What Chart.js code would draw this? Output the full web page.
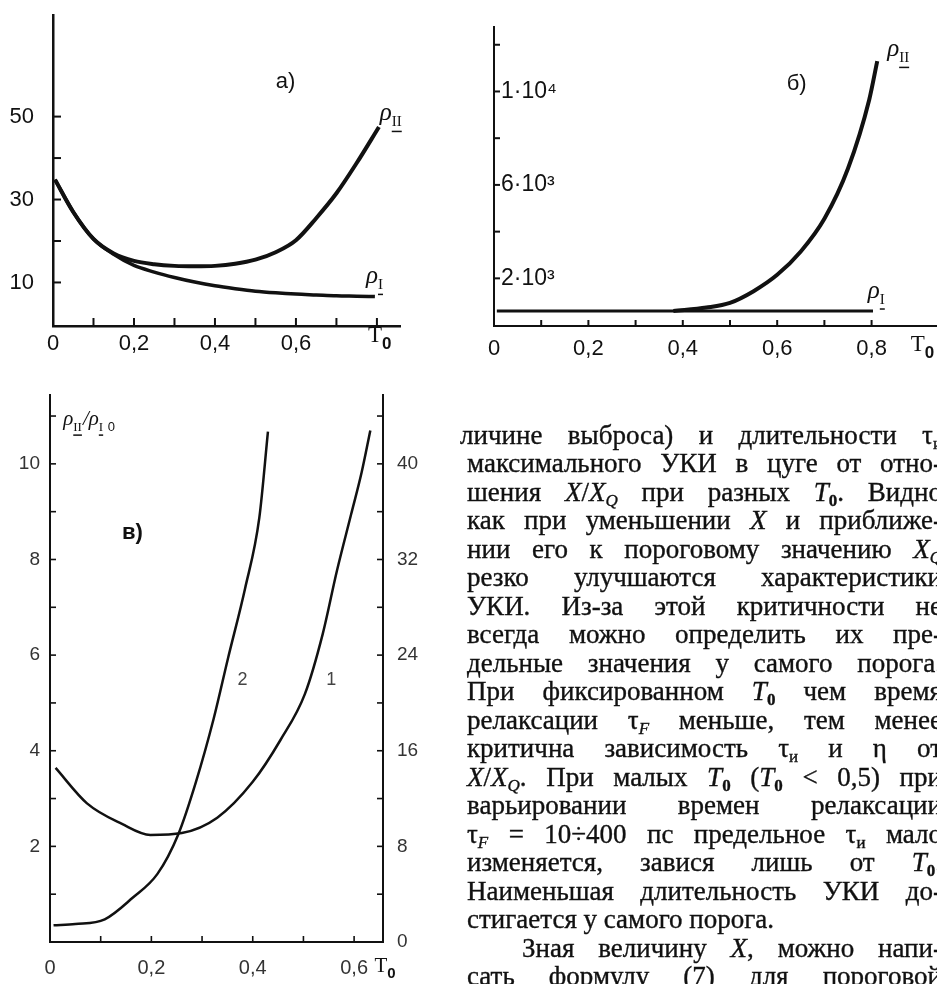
<!DOCTYPE html>
<html lang="ru">
<head>
<meta charset="utf-8">
<title>ρII, ρI от T0</title>
<script src="https://cdn.jsdelivr.net/npm/chart.js@4.4.1/dist/chart.umd.min.js"></script>
<style>
  html, body { margin: 0; padding: 0; background: #fff; }
  body { width: 937px; height: 984px; position: relative; overflow: hidden; }
  canvas { position: absolute; }
  #chartA { left: 0; top: -25px; }
  #chartB { left: 470px; top: -13px; }
  #chartC { left: 0; top: 355px; }
  .ln { position: absolute; white-space: nowrap; line-height: 28px;
        font-family: 'Liberation Serif', 'DejaVu Serif', serif; font-size: 27px; color: #111;
        -webkit-text-stroke: 0.35px #111; }
  .ln sub { font-size: 17px; line-height: 0; vertical-align: -5px; }
</style>
</head>
<body>
<canvas id="chartA" width="470" height="405"></canvas>
<canvas id="chartB" width="467" height="413"></canvas>
<canvas id="chartC" width="460" height="629"></canvas>
<div id="txt"></div>
<script>
// а) rho_II и rho_I от T0
var tA2   = [0.005, 0.05, 0.1, 0.15, 0.2, 0.25, 0.3, 0.35, 0.4, 0.45, 0.5, 0.55, 0.6, 0.65, 0.7, 0.75, 0.805];
var rhoA2 = [34.8, 27, 20.5, 17, 15.2, 14.4, 14.0, 13.9, 14.0, 14.5, 15.5, 17.3, 20.2, 25.5, 31.5, 38.8, 47.5];
var tA1   = [0.005, 0.05, 0.1, 0.15, 0.2, 0.25, 0.3, 0.35, 0.4, 0.45, 0.5, 0.55, 0.6, 0.65, 0.7, 0.75, 0.795];
var rhoA1 = [34.8, 27, 20.5, 16.8, 14.1, 12.5, 11.2, 10.1, 9.2, 8.5, 7.9, 7.5, 7.2, 7.0, 6.8, 6.7, 6.6];
var yTicksA = [10, 30, 50];

// б)
var tB1   = [0.006, 0.1, 0.2, 0.3, 0.4, 0.5, 0.6, 0.7, 0.803];
var rhoB1 = [600, 600, 600, 600, 600, 600, 600, 600, 600];
var tB2   = [0.38, 0.45, 0.5, 0.55, 0.6, 0.65, 0.7, 0.75, 0.795, 0.812];
var rhoB2 = [600, 750, 950, 1450, 2150, 3150, 4550, 6700, 9650, 11300];
var yTickValsB = [0, 2000, 4000, 6000, 8000, 10000, 12000];
var yTicksB = { 2000: '2·10³', 6000: '6·10³', 10000: '1·10⁴' };

// в) кривая 1 (левая шкала), кривая 2 (правая шкала)
var tC1 = [0.011, 0.073, 0.142, 0.198, 0.26, 0.33, 0.40, 0.455, 0.503, 0.538, 0.566, 0.594, 0.615, 0.632];
var vC1 = [3.64, 2.9, 2.47, 2.24, 2.28, 2.6, 3.35, 4.23, 5.19, 6.44, 7.76, 8.94, 9.83, 10.7];
var tC2 = [0.007, 0.05, 0.108, 0.163, 0.212, 0.253, 0.288, 0.323, 0.351, 0.385, 0.413, 0.43];
var vC2 = [1.4, 1.5, 1.9, 3.7, 5.7, 9.0, 13.4, 18.7, 23.7, 29.6, 35.5, 42.7];
var yTicksC  = [2, 4, 6, 8, 10];
var y1TicksC = [0, 8, 16, 24, 32, 40];

var INK = '#111';
var SANS = "'Liberation Sans', Arial, sans-serif";
var SERIF = "'Liberation Serif', 'DejaVu Serif', serif";
Chart.defaults.font.family = SANS;
Chart.defaults.color = INK;

function pts(xs, ys) { return xs.map(function (x, i) { return { x: x, y: ys[i] }; }); }
function tLabel(maxK) {
    return function (v) {
        var k = Math.round(v * 10);
        if (k === 0) return '0';
        return (k % 2 === 0 && k <= maxK) ? (k / 10).toFixed(1).replace('.', ',') : '';
    };
}

// inward tick marks
var inTicks = {
    id: 'inTicks',
    afterDraw: function (chart, args, opts) {
        var ctx = chart.ctx;
        ctx.save();
        ctx.strokeStyle = INK;
        ctx.lineWidth = opts.width || 2;
        Object.keys(chart.scales).forEach(function (id) {
            var sc = chart.scales[id];
            var lim = (opts.limits || {})[id];
            sc.ticks.forEach(function (t) {
                if (Math.abs(t.value) < 1e-9) return;
                if (lim !== undefined && t.value > lim) return;
                var p = sc.getPixelForValue(t.value);
                ctx.beginPath();
                if (sc.isHorizontal()) {
                    ctx.moveTo(p, sc.top); ctx.lineTo(p, sc.top - opts.len);
                } else if (sc.position === 'left') {
                    ctx.moveTo(sc.right, p); ctx.lineTo(sc.right + opts.len, p);
                } else {
                    ctx.moveTo(sc.left, p); ctx.lineTo(sc.left - opts.len, p);
                }
                ctx.stroke();
            });
        });
        ctx.restore();
    }
};

// text labels placed in data coordinates
var notes = {
    id: 'notes',
    afterDraw: function (chart, args, opts) {
        var ctx = chart.ctx;
        ctx.save();
        ctx.textBaseline = 'middle';
        ctx.textAlign = 'left';
        (opts.items || []).forEach(function (it) {
            var px = chart.scales.x.getPixelForValue(it.x);
            var py = chart.scales[it.scale || 'y'].getPixelForValue(it.y);
            ctx.fillStyle = it.color || INK;
            var x = px;
            it.parts.forEach(function (p) {
                var size = p.sub ? (it.ss || 14) : (it.s || 22);
                ctx.font = (p.f || '') + ' ' + size + 'px ' + (p.serif ? SERIF : SANS);
                var y = p.sub ? py + (it.s || 22) * 0.35 : py;
                ctx.fillText(p.t, x, y);
                var w = ctx.measureText(p.t).width;
                if (p.u) {
                    ctx.fillRect(x, y + size * 0.55, w, 1.5);
                }
                x += w + (p.sub ? 1 : 0);
            });
        });
        ctx.restore();
    }
};

function rho(sub) { return [{ t: 'ρ', serif: true, f: 'italic' }, { t: sub, sub: true, u: true, serif: true }]; }
var T0 = [{ t: 'T', serif: true }, { t: '0', sub: true, f: 'bold' }];

function axis(extra) {
    var base = {
        type: 'linear',
        grid: { drawOnChartArea: false, drawTicks: false },
        border: { color: INK, width: 2.5 },
        ticks: { autoSkip: false, includeBounds: false, maxRotation: 0, color: INK }
    };
    Object.keys(extra).forEach(function (k) {
        if (k === 'ticks' || k === 'border') base[k] = Object.assign({}, base[k], extra[k]);
        else base[k] = extra[k];
    });
    return base;
}

var lineStyle = { borderColor: INK, pointRadius: 0, cubicInterpolationMode: 'monotone', fill: false };

// а)
new Chart(document.getElementById('chartA'), {
    type: 'line',
    data: { datasets: [
        Object.assign({ label: 'ρII', data: pts(tA2, rhoA2), borderWidth: 4 }, lineStyle),
        Object.assign({ label: 'ρI', data: pts(tA1, rhoA1), borderWidth: 3.5 }, lineStyle)
    ] },
    options: {
        responsive: false, animation: false,
        layout: { padding: { top: 40, right: 70, left: 0, bottom: 0 } },
        plugins: {
            legend: { display: false }, tooltip: { enabled: false },
            inTicks: { len: 8, width: 2, limits: { y: 55 } },
            notes: { items: [
                { x: 0.55, y: 58.3, parts: [{ t: 'а)' }] },
                { x: 0.807, y: 50.7, s: 25, ss: 15, parts: rho('II') },
                { x: 0.773, y: 11.4, s: 25, ss: 15, parts: rho('I') },
                { x: 0.778, y: -2.9, s: 23, ss: 17, parts: T0 }
            ] }
        },
        scales: {
            x: axis({ min: 0, max: 0.857, afterFit: function (s) { s.height = 54; },
                ticks: { stepSize: 0.1, padding: 5, font: { size: 22 }, callback: tLabel(6) } }),
            y: axis({ min: -0.5, max: 74.5, afterFit: function (s) { s.width = 53; },
                ticks: { stepSize: 10, padding: 19, font: { size: 22 },
                    callback: function (v) { return yTicksA.indexOf(v) >= 0 ? String(v) : ''; } } })
        }
    },
    plugins: [inTicks, notes]
});

// б)
new Chart(document.getElementById('chartB'), {
    type: 'line',
    data: { datasets: [
        Object.assign({ label: 'ρII', data: pts(tB2, rhoB2), borderWidth: 4 }, lineStyle),
        Object.assign({ label: 'ρI', data: pts(tB1, rhoB1), borderWidth: 3 }, lineStyle)
    ] },
    options: {
        responsive: false, animation: false,
        layout: { padding: { top: 40, right: 0, left: 0, bottom: 0 } },
        plugins: {
            legend: { display: false }, tooltip: { enabled: false },
            inTicks: { len: 6, width: 2, limits: { x: 0.85 } },
            notes: { items: [
                { x: 0.62, y: 10340, parts: [{ t: 'б)' }] },
                { x: 0.833, y: 11790, s: 25, ss: 15, parts: rho('II') },
                { x: 0.792, y: 1447, s: 25, ss: 15, parts: rho('I') },
                { x: 0.883, y: -851, s: 23, ss: 17, parts: T0 }
            ] }
        },
        scales: {
            x: axis({ min: 0, max: 0.9386, afterFit: function (s) { s.height = 74; },
                border: { width: 2 },
                ticks: { stepSize: 0.1, padding: 10, font: { size: 22 }, callback: tLabel(8) } }),
            y: axis({ min: -40, max: 12760, afterFit: function (s) { s.width = 24; },
                afterBuildTicks: function (s) { s.ticks = yTickValsB.map(function (v) { return { value: v }; }); },
                border: { width: 2 },
                ticks: { mirror: true, padding: 7, font: { size: 23 },
                    callback: function (v) { return yTicksB[v] || ''; } } })
        }
    },
    plugins: [inTicks, notes]
});

// в)
new Chart(document.getElementById('chartC'), {
    type: 'line',
    data: { datasets: [
        Object.assign({ label: '1', data: pts(tC1, vC1), borderWidth: 2.5, yAxisID: 'y' }, lineStyle),
        Object.assign({ label: '2', data: pts(tC2, vC2), borderWidth: 2.5, yAxisID: 'y1' }, lineStyle)
    ] },
    options: {
        responsive: false, animation: false,
        layout: { padding: { top: 40, right: 0, left: 0, bottom: 0 } },
        plugins: {
            legend: { display: false }, tooltip: { enabled: false },
            inTicks: { len: 6, width: 1.6 },
            notes: { items: [
                { x: 0.142, y: 8.56, parts: [{ t: 'в)', f: 'bold' }] },
                { x: 0.37, y: 5.48, s: 18, color: '#444', parts: [{ t: '2' }] },
                { x: 0.545, y: 5.48, s: 18, color: '#444', parts: [{ t: '1' }] },
                { x: 0.026, y: 10.92, s: 21, ss: 13, parts: [
                    { t: 'ρ', serif: true, f: 'italic' }, { t: 'II', sub: true, u: true, serif: true },
                    { t: '/ρ', serif: true, f: 'italic' }, { t: 'I', sub: true, u: true, serif: true },
                    { t: ' 0', sub: true }
                ] },
                { x: 0.64, y: -0.52, s: 21, ss: 15, parts: T0 }
            ] }
        },
        scales: {
            x: axis({ min: 0, max: 0.657, afterFit: function (s) { s.height = 42; },
                border: { width: 2, dash: [14, 3] },
                ticks: { stepSize: 0.1, padding: 14, font: { size: 20 }, color: '#333', callback: tLabel(6) } }),
            y: axis({ position: 'left', min: 0, max: 11.44, afterFit: function (s) { s.width = 50; },
                border: { width: 2, dash: [16, 3] },
                ticks: { stepSize: 1, padding: 10, font: { size: 19 }, color: '#333',
                    callback: function (v) { return yTicksC.indexOf(v) >= 0 ? String(v) : ''; } } }),
            y1: axis({ position: 'right', min: 0, max: 45.76, afterFit: function (s) { s.width = 77; },
                border: { width: 2, dash: [16, 3] },
                ticks: { stepSize: 4, padding: 14, font: { size: 19 }, color: '#333',
                    callback: function (v) { return y1TicksC.indexOf(v) >= 0 ? String(v) : ''; } } })
        }
    },
    plugins: [inTicks, notes]
});

// текст справа от рисунка в)
var lines = [
    ['личине выброса) и длительности τ<sub>и</sub>', 460, 1],
    ['максимального УКИ в цуге от отно-', 467, 1],
    ['шения <i>X</i>/<i>X<sub>Q</sub></i> при разных <i>T</i><sub><b>0</b></sub>. Видно', 467, 1],
    ['как при уменьшении <i>X</i> и приближе-', 467, 1],
    ['нии его к пороговому значению <i>X<sub>Q</sub></i>', 467, 1],
    ['резко улучшаются характеристики', 467, 1],
    ['УКИ. Из-за этой критичности не', 467, 1],
    ['всегда можно определить их пре-', 467, 1],
    ['дельные значения у самого порога.', 467, 1],
    ['При фиксированном <i>T</i><sub><b>0</b></sub> чем время', 467, 1],
    ['релаксации τ<sub><i>F</i></sub> меньше, тем менее', 467, 1],
    ['критична зависимость τ<sub>и</sub> и η от', 467, 1],
    ['<i>X</i>/<i>X<sub>Q</sub></i>. При малых <i>T</i><sub><b>0</b></sub> (<i>T</i><sub><b>0</b></sub> &lt; 0,5) при', 467, 1],
    ['варьировании времен релаксации', 467, 1],
    ['τ<sub><i>F</i></sub> = 10÷400 пс предельное τ<sub>и</sub> мало', 467, 1],
    ['изменяется, завися лишь от <i>T</i><sub><b>0</b></sub>.', 467, 1],
    ['Наименьшая длительность УКИ до-', 467, 1],
    ['стигается у самого порога.', 467, 0],
    ['Зная величину <i>X</i>, можно напи-', 522, 1],
    ['сать формулу (7) для пороговой', 467, 1]
];
var RIGHT = 942;
var box = document.getElementById('txt');
lines.forEach(function (l, i) {
    var d = document.createElement('div');
    d.className = 'ln';
    d.innerHTML = l[0];
    d.style.left = l[1] + 'px';
    d.style.top = (420.5 + i * 28.5) + 'px';
    box.appendChild(d);
    if (!l[2]) return;
    var w = d.getBoundingClientRect().width;
    var gap = RIGHT - l[1] - w;
    var n = (d.textContent.match(/ /g) || []).length;
    if (gap >= 0 && n) {
        d.style.wordSpacing = (gap / n) + 'px';
    } else if (gap < 0) {
        d.style.letterSpacing = (gap / d.textContent.length) + 'px';
    }
});
</script>
</body>
</html>
